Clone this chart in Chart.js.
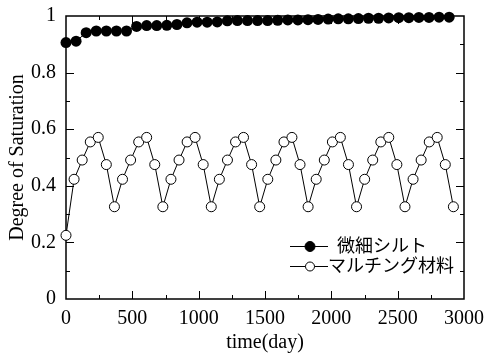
<!DOCTYPE html>
<html>
<head>
<meta charset="utf-8">
<script src="https://cdn.jsdelivr.net/npm/chart.js@4.4.0/dist/chart.umd.min.js"></script>
<style>
  html, body { margin: 0; padding: 0; background: #fff; }
  #wrap { width: 488px; height: 358px; }
</style>
</head>
<body>
<div id="wrap"><canvas id="chart"></canvas></div>
<script>
// 微細シルト (filled circles)
const siltDays = [0,76,152,228,304,380,456,532,608,684,760,836,912,988,1064,1140,1216,1292,1368,1444,
  1520,1596,1672,1748,1824,1900,1976,2052,2128,2204,2280,2356,2432,2508,2584,2660,2736,2812,2888];
const siltSat = [0.906,0.911,0.941,0.947,0.947,0.947,0.947,0.963,0.966,0.966,0.967,0.970,0.976,0.978,0.978,0.979,0.983,0.984,0.984,0.984,
  0.984,0.985,0.986,0.986,0.987,0.988,0.989,0.990,0.990,0.991,0.992,0.992,0.993,0.994,0.994,0.995,0.995,0.996,0.996];

// マルチング材料 (open circles)
const mulchDays = [0,61,122,183,243,304,365,426,487,548,608,669,730,791,852,913,973,1034,1095,1156,1217,1278,1338,1399,
  1460,1521,1582,1643,1703,1764,1825,1886,1947,2008,2068,2129,2190,2251,2312,2373,2433,2494,2555,2616,2677,2738,2798,2859,2920];
const mulchSat = [0.225,
  0.423,0.491,0.555,0.571,0.475,0.326,
  0.423,0.491,0.555,0.571,0.475,0.326,
  0.423,0.491,0.555,0.571,0.475,0.326,
  0.423,0.491,0.555,0.571,0.475,0.326,
  0.423,0.491,0.555,0.571,0.475,0.326,
  0.423,0.491,0.555,0.571,0.475,0.326,
  0.423,0.491,0.555,0.571,0.475,0.326,
  0.423,0.491,0.555,0.571,0.475,0.326];

const seriesNames = ['微細シルト', 'マルチング材料'];
const xTicks = [0,500,1000,1500,2000,2500,3000];
const yTicks = [0,0.2,0.4,0.6,0.8,1];

function pts(xs, ys) { return xs.map((x, i) => ({x: x, y: ys[i]})); }

const SERIF = "'Liberation Serif', 'Times New Roman', serif";
Chart.defaults.font.family = SERIF;
Chart.defaults.color = '#000';

// frame with inward ticks on all four sides, plus the legend
const frame = {
  id: 'frame',
  beforeDatasetsDraw(chart) {
    const c = chart.ctx, a = chart.chartArea;
    const xs = chart.scales.x, ys = chart.scales.y;
    c.save();
    c.strokeStyle = '#000';
    c.lineWidth = 1.5;
    c.strokeRect(a.left, a.top, a.right - a.left, a.bottom - a.top);
    c.lineWidth = 1;
    c.beginPath();
    for (let v = 250; v < 3000; v += 250) {
      const p = Math.round(xs.getPixelForValue(v)) + 0.5;
      const len = v % 500 === 0 ? 8 : 4;
      c.moveTo(p, a.bottom); c.lineTo(p, a.bottom - len);
      c.moveTo(p, a.top); c.lineTo(p, a.top + len);
    }
    for (let k = 1; k < 10; k++) {
      const p = Math.round(ys.getPixelForValue(k / 10)) + 0.5;
      const len = k % 2 === 0 ? 8 : 4;
      c.moveTo(a.left, p); c.lineTo(a.left + len, p);
      c.moveTo(a.right, p); c.lineTo(a.right - len, p);
    }
    c.stroke();
    c.restore();
  },
  afterDraw(chart) {
    const c = chart.ctx;
    const rows = [246, 266];
    c.save();
    c.font = "18px 'Liberation Serif', 'Noto Sans CJK JP'";
    c.textBaseline = 'middle';
    chart.data.datasets.forEach((ds, i) => {
      const y = rows[i];
      c.strokeStyle = '#000';
      c.lineWidth = 1;
      c.beginPath();
      c.moveTo(290, y + 0.5); c.lineTo(328, y + 0.5);
      c.stroke();
      c.beginPath();
      c.arc(310, y + 0.5, i === 0 ? 5 : 4.5, 0, Math.PI * 2);
      c.fillStyle = ds.pointBackgroundColor;
      c.fill();
      c.stroke();
      c.fillStyle = '#000';
      c.fillText(ds.label, i === 0 ? 337 : 328, y + 1);
    });
    c.restore();
  }
};

new Chart(document.getElementById('chart'), {
  type: 'line',
  data: {
    datasets: [
      {
        label: seriesNames[0],
        data: pts(siltDays, siltSat),
        borderColor: '#000', borderWidth: 1,
        pointRadius: 5.5, pointBackgroundColor: '#000', pointBorderColor: '#000', pointBorderWidth: 0,
        clip: false
      },
      {
        label: seriesNames[1],
        data: pts(mulchDays, mulchSat),
        borderColor: '#000', borderWidth: 1,
        pointRadius: 5, pointBackgroundColor: '#fff', pointBorderColor: '#000', pointBorderWidth: 1,
        clip: false
      }
    ]
  },
  options: {
    responsive: true,
    maintainAspectRatio: false,
    animation: false,
    layout: { padding: { left: 0, right: 24, top: 16, bottom: 0 } },
    plugins: { legend: { display: false }, tooltip: { enabled: false } },
    scales: {
      x: {
        type: 'linear', min: 0, max: 3000,
        afterBuildTicks: s => { s.ticks = xTicks.map(v => ({value: v})); },
        afterFit: s => { s.height = 59; },
        grid: { display: false }, border: { display: false },
        ticks: { font: { family: SERIF, size: 20 }, padding: 0, maxRotation: 0, color: '#000',
                 callback: v => String(v) },
        title: { display: true, text: 'time(day)', font: { family: SERIF, size: 20 }, padding: { top: 0, bottom: 3 }, color: '#000' }
      },
      y: {
        min: 0, max: 1,
        afterBuildTicks: s => { s.ticks = yTicks.map(v => ({value: v})); },
        afterFit: s => { s.width = 66; },
        grid: { display: false }, border: { display: false },
        ticks: { font: { family: SERIF, size: 20 }, padding: 2, color: '#000',
                 callback: v => String(v) },
        title: { display: true, text: 'Degree of Saturation', font: { family: SERIF, size: 20 }, padding: { top: 6, bottom: 0 }, color: '#000' }
      }
    }
  },
  plugins: [frame]
});
</script>
</body>
</html>
